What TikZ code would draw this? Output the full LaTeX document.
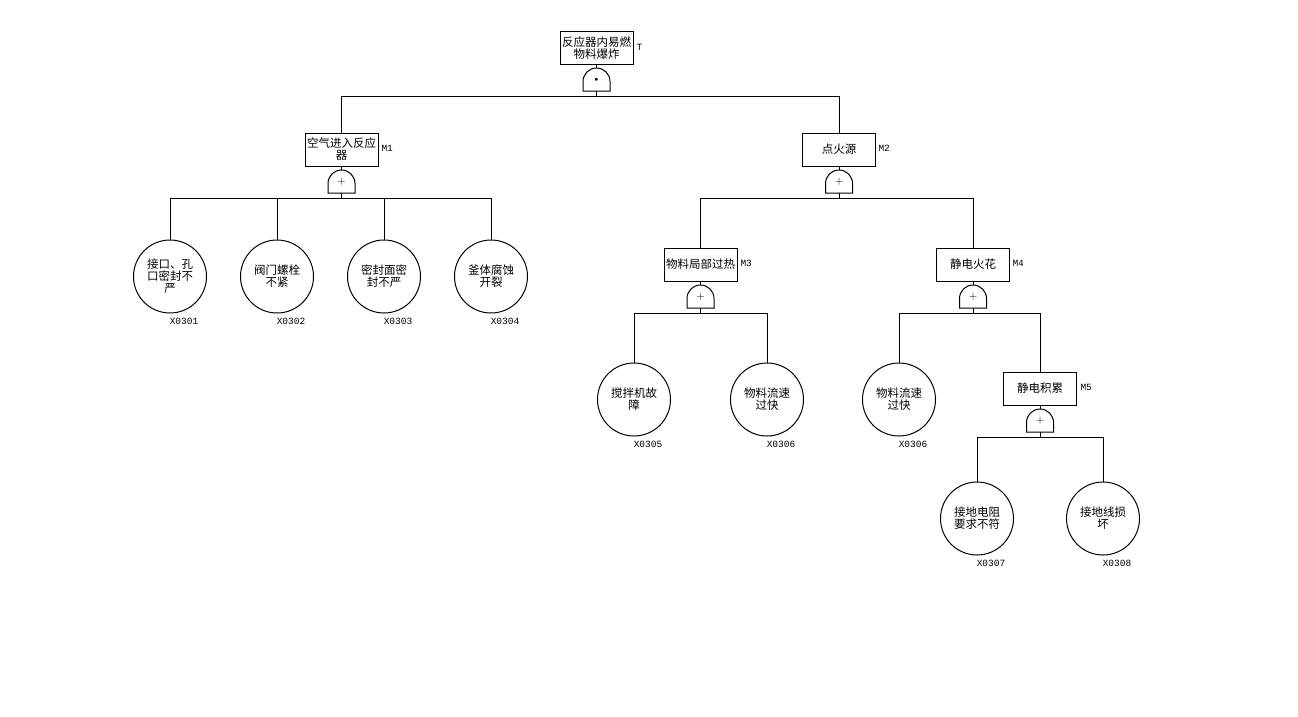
\documentclass[tikz,border=0pt]{standalone}
\usepackage{fontspec}
\newfontfamily\cjk{Noto Sans CJK SC}
\newfontfamily\codefont{Liberation Mono}
\tikzset{
    evbox/.style={draw,inner sep=0pt,minimum width=73pt,minimum height=33pt,align=center,font=\cjk\fontsize{11.5}{12}\selectfont},
    basic/.style={draw,circle,inner sep=0pt,minimum size=73pt,align=center,font=\cjk\fontsize{11.5}{12}\selectfont},
    gatebox/.style={inner sep=0pt,outer sep=0pt,minimum width=27pt,minimum height=23pt,font=\fontsize{11}{11}\selectfont},
    gtag/.style={anchor=west,inner sep=0pt,font=\codefont\fontsize{9.5}{10}\selectfont},
    evcode/.style={inner sep=0pt,font=\codefont\fontsize{9.5}{10}\selectfont}
}

\begin{document}
\begin{tikzpicture}[x=1pt,y=-1pt,line width=1pt]
            \useasboundingbox (0,0) rectangle (1298,716);
            % events and gates
            \node [evbox] (T) at (596.5,48) {反应器内易燃\\物料爆炸};
            \node [gtag] (tT) at (636,47) {T};
            \node [evbox] (M1) at (341.5,149.5) {空气进入反应\\器};
            \node [gtag] (tM1) at (381,148.5) {M1};
            \node [evbox] (M2) at (839,149.5) {点火源};
            \node [gtag] (tM2) at (878,148.5) {M2};
            \node [evbox] (M3) at (700.5,264.5) {物料局部过热};
            \node [gtag] (tM3) at (740,263.5) {M3};
            \node [evbox] (M4) at (973,264.5) {静电火花};
            \node [gtag] (tM4) at (1012,263.5) {M4};
            \node [evbox] (M5) at (1040,388.5) {静电积累};
            \node [gtag] (tM5) at (1080,387.5) {M5};
            \node [gatebox] (gT) at (596.5,79.5) {\fontsize{7}{7}\selectfont$\bullet$};
            \foreach \g/\x/\y in {g1/341.5/181.5,g2/839/181.5,g3/700.5/296.5,g4/973/296.5,g5/1040/420.5} {
                \node [gatebox] (\g) at (\x,\y) {$+$};
            }
            \foreach \g in {gT,g1,g2,g3,g4,g5} {
                \draw (\g.south west) -- ([yshift=9.5pt]\g.south west)
                    arc [start angle=180,end angle=0,radius=13.5pt] -- (\g.south east) -- cycle;
            }
            % basic events
            \foreach \e/\x/\y/\txt/\num in {
                e1/170/276.5/{接口、孔\\口密封不\\严}/X0301,
                e2/277/276.5/{阀门螺栓\\不紧}/X0302,
                e3/384/276.5/{密封面密\\封不严}/X0303,
                e4/491/276.5/{釜体腐蚀\\开裂}/X0304,
                e5/634/399.5/{搅拌机故\\障}/X0305,
                e6/767/399.5/{物料流速\\过快}/X0306,
                e7/899/399.5/{物料流速\\过快}/X0306,
                e8/977/518.5/{接地电阻\\要求不符}/X0307,
                e9/1103/518.5/{接地线损\\坏}/X0308} {
                \node [basic] (\e) at (\x,\y) {\txt};
                \node [evcode] (n\e) at (\x+14,\y+44.5) {\num};
            }
            % connectors
            \foreach \b/\g in {T/gT,M1/g1,M2/g2,M3/g3,M4/g4,M5/g5} {
                \draw (\b.south) -- (\g.north);
            }
            \foreach \p/\c in {gT/M1,gT/M2,g1/e1,g1/e2,g1/e3,g1/e4,g2/M3,g2/M4,
                g3/e5,g3/e6,g4/e7,g4/M5,g5/e8,g5/e9} {
                \draw (\p.south) -- ++(0,5) -| (\c.north);
            }
        \end{tikzpicture}
\end{document}
